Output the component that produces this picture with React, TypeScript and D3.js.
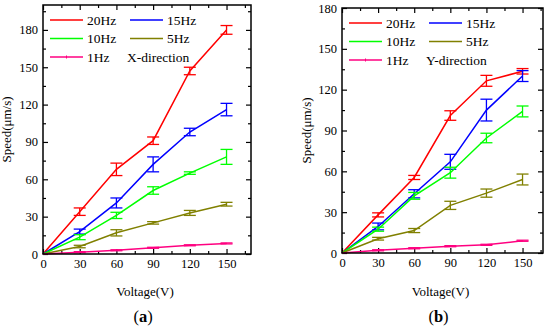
import React, { useRef, useEffect } from 'react';
import * as d3 from 'd3';

const voltages = [0, 30, 60, 90, 120, 150];
const seriesNames = ['20Hz', '15Hz', '10Hz', '5Hz', '1Hz'];
const seriesColors = ['#ff0000', '#0000ff', '#00ff00', '#808000', '#ff0080'];

// panel (a): X-direction
const xSpeed20 = [0, 34, 68, 91, 147, 180];
const xErr20 = [0, 3, 5, 3, 3, 3.5];
const xSpeed15 = [0, 18, 41, 72, 98, 116];
const xErr15 = [0, 2, 4, 6, 3, 5];
const xSpeed10 = [0, 13.5, 31, 51, 65, 78];
const xErr10 = [0, 2, 2.5, 3, 1, 6];
const xSpeed5 = [0, 6, 17, 25, 33, 40];
const xErr5 = [0, 1, 2.5, 1, 2, 1.5];
const xSpeed1 = [0, 1.5, 3, 5, 7, 8.5];
const xErr1 = [0, 0.4, 0.4, 0.4, 0.4, 0.4];

// panel (b): Y-direction
const ySpeed20 = [0, 28, 55.5, 101, 126.5, 133.5];
const yErr20 = [0, 1.5, 1.5, 3.5, 4, 2];
const ySpeed15 = [0, 19.5, 43.5, 67, 105, 130];
const yErr15 = [0, 2.5, 3, 5.5, 8, 4];
const ySpeed10 = [0, 17.5, 42, 59, 84.5, 104];
const yErr10 = [0, 1.5, 2.5, 4, 3.5, 4];
const ySpeed5 = [0, 10.5, 16.5, 35, 44, 54];
const yErr5 = [0, 1, 1.5, 3, 3, 4];
const ySpeed1 = [0, 2, 3.5, 5, 6, 9];
const yErr1 = [0, 0.4, 0.4, 0.4, 0.4, 0.4];

const xTicks = [0, 30, 60, 90, 120, 150];
const yTicksA = [0, 30, 60, 90, 120, 150, 180];
const yTicksB = [0, 30, 60, 90, 120, 150, 180];

const FONT = '"Liberation Serif", "DejaVu Serif", serif';

const panels = [
  {
    left: 43, right: 251, top: 5, bottom: 254, xMax: 170, yMax: 200,
    yTicks: yTicksA, tag: 'a', note: 'X-direction', yLabelX: 7,
    speeds: [xSpeed20, xSpeed15, xSpeed10, xSpeed5, xSpeed1],
    errs: [xErr20, xErr15, xErr10, xErr5, xErr1],
  },
  {
    left: 342, right: 543, top: 8, bottom: 253, xMax: 167, yMax: 180,
    yTicks: yTicksB, tag: 'b', note: 'Y-direction', yLabelX: 307,
    speeds: [ySpeed20, ySpeed15, ySpeed10, ySpeed5, ySpeed1],
    errs: [yErr20, yErr15, yErr10, yErr5, yErr1],
  },
];

const App = () => {
  const svgRef = useRef<SVGSVGElement>(null);

  useEffect(() => {
    const svg = d3.select(svgRef.current);
    svg.selectAll('*').remove();

    panels.forEach(p => {
      const x = d3.scaleLinear().domain([0, p.xMax]).range([p.left, p.right]);
      const y = d3.scaleLinear().domain([0, p.yMax]).range([p.bottom, p.top]);
      const g = svg.append('g');

      const minorX = d3.range(15, p.xMax, 30);
      const minorY = d3.range(15, p.yMax, 30);

      // axes with inward ticks on all sides
      const axes: [any, number, boolean][] = [
        [d3.axisBottom(x).tickValues(xTicks).tickSize(-5).tickPadding(5), p.bottom, true],
        [d3.axisTop(x).tickValues(xTicks).tickSize(-5).tickFormat(() => ''), p.top, true],
        [d3.axisLeft(y).tickValues(p.yTicks).tickSize(-5).tickPadding(5), p.left, false],
        [d3.axisRight(y).tickValues(p.yTicks).tickSize(-5).tickFormat(() => ''), p.right, false],
        [d3.axisBottom(x).tickValues(minorX).tickSize(-3).tickFormat(() => ''), p.bottom, true],
        [d3.axisTop(x).tickValues(minorX).tickSize(-3).tickFormat(() => ''), p.top, true],
        [d3.axisLeft(y).tickValues(minorY).tickSize(-3).tickFormat(() => ''), p.left, false],
        [d3.axisRight(y).tickValues(minorY).tickSize(-3).tickFormat(() => ''), p.right, false],
      ];
      axes.forEach(([ax, pos, horiz]) => {
        const a = g.append('g')
          .attr('transform', horiz ? `translate(0,${pos})` : `translate(${pos},0)`)
          .call(ax);
        a.select('.domain').remove();
        a.selectAll('line').attr('stroke', '#000').attr('stroke-width', 1.2);
        a.selectAll('text').attr('font-family', FONT).attr('font-size', 12.5).attr('fill', '#000');
      });

      // series
      const line = d3.line<number>().x((d, i) => x(voltages[i])).y(d => y(d));
      p.speeds.forEach((vals, si) => {
        const c = seriesColors[si];
        g.append('path')
          .attr('d', line(vals))
          .attr('fill', 'none')
          .attr('stroke', c)
          .attr('stroke-width', 1.5);
        const eb = g.append('g').attr('stroke', c).attr('stroke-width', 1.3);
        vals.forEach((v, i) => {
          if (i === 0) return;
          const e = p.errs[si][i];
          const cx = x(voltages[i]);
          eb.append('line').attr('x1', cx).attr('x2', cx).attr('y1', y(v - e)).attr('y2', y(v + e));
          [v - e, v + e].forEach(w => {
            eb.append('line').attr('x1', cx - 6).attr('x2', cx + 6).attr('y1', y(w)).attr('y2', y(w));
          });
        });
      });

      // frame
      g.append('rect')
        .attr('x', p.left).attr('y', p.top)
        .attr('width', p.right - p.left).attr('height', p.bottom - p.top)
        .attr('fill', 'none').attr('stroke', '#000').attr('stroke-width', 1.5);

      // legend
      const lx = p.left + 7;
      const colW = 80;
      seriesNames.forEach((name, i) => {
        const col = i % 2;
        const row = Math.floor(i / 2);
        const x0 = lx + col * colW;
        const yy = p.top + 15 + row * 18.5;
        g.append('line')
          .attr('x1', x0).attr('x2', x0 + 33).attr('y1', yy).attr('y2', yy)
          .attr('stroke', seriesColors[i]).attr('stroke-width', 1.5);
        if (i === 4) {
          g.append('line')
            .attr('x1', x0 + 16.5).attr('x2', x0 + 16.5).attr('y1', yy - 1.5).attr('y2', yy + 1.5)
            .attr('stroke', seriesColors[i]).attr('stroke-width', 1);
        }
        g.append('text')
          .attr('x', x0 + 37).attr('y', yy + 4.5)
          .attr('font-family', FONT).attr('font-size', 13.5)
          .text(name);
      });
      g.append('text')
        .attr('x', lx + colW - 3).attr('y', p.top + 15 + 2 * 18.5 + 4.5)
        .attr('font-family', FONT).attr('font-size', 13.5)
        .text(p.note);

      // axis titles
      const midX = (p.left + p.right) / 2;
      const midY = (p.top + p.bottom) / 2;
      g.append('text')
        .attr('transform', `translate(${p.yLabelX + 4},${midY}) rotate(-90)`)
        .attr('text-anchor', 'middle')
        .attr('font-family', FONT).attr('font-size', 13)
        .text('Speed(μm/s)');
      g.append('text')
        .attr('x', midX - 2).attr('y', 296)
        .attr('text-anchor', 'middle')
        .attr('font-family', FONT).attr('font-size', 13)
        .text('Voltage(V)');
      const t = g.append('text')
        .attr('x', midX - 4).attr('y', 322)
        .attr('text-anchor', 'middle')
        .attr('font-family', FONT).attr('font-size', 16.5);
      t.append('tspan').text('(');
      t.append('tspan').attr('font-weight', 'bold').text(p.tag);
      t.append('tspan').text(')');
    });
  }, []);

  return (
    <svg ref={svgRef} width={550} height={327}
      style={{ position: 'absolute', left: 0, top: 0, background: '#fff' }} />
  );
};

export default App;
